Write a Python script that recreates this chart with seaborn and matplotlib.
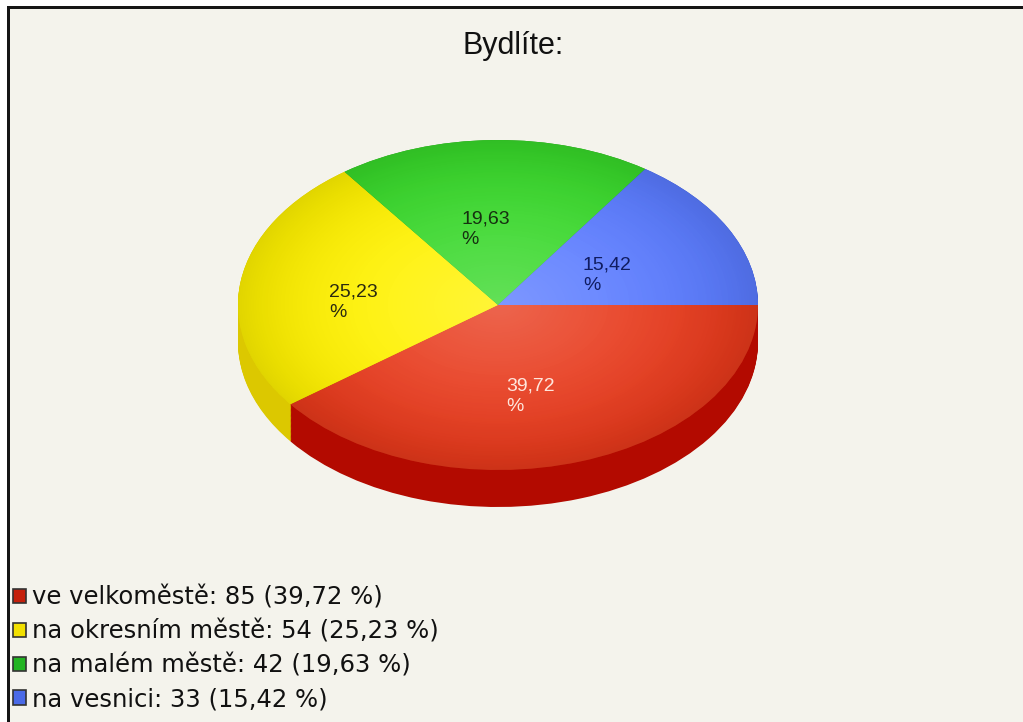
import numpy as np
import matplotlib
matplotlib.use("Agg")
import matplotlib.pyplot as plt
import seaborn as sns
from matplotlib.patches import Rectangle, Circle, Patch

# ---- data ----
categories = ["ve velkoměstě", "na okresním městě", "na malém městě", "na vesnici"]
counts = [85, 54, 42, 33]
percents = [39.72, 25.23, 19.63, 15.42]
title = "Bydlíte:"

# ---- styles ----
top_colors = ["#e83a1c", "#fff200", "#38d82a", "#5a7bff"]
side_colors = ["#b30a00", "#dcc800", "#2aa01c", "#3050d0"]
label_colors = ["#ffe6dc", "#2a2a10", "#163010", "#101c60"]
legend_colors = ["#c4200c", "#f2e000", "#22b422", "#4a6ae8"]

sns.set_theme(style="white")
plt.rcParams['font.family'] = ['Liberation Sans', 'DejaVu Sans']

W, H = 1023, 722
fig = plt.figure(figsize=(W / 100, H / 100), dpi=100)
fig.patch.set_facecolor('white')
fig.patches.append(Rectangle((10 / W, 0), 1, (H - 9) / H, transform=fig.transFigure,
                             facecolor='#f4f3ec', edgecolor='none', zorder=-3))
fig.patches.append(Rectangle((7 / W, 0), 3 / W, (H - 6) / H, transform=fig.transFigure,
                             facecolor='#151515', edgecolor='none', zorder=-2))
fig.patches.append(Rectangle((7 / W, (H - 9) / H), 1, 3 / H, transform=fig.transFigure,
                             facecolor='#151515', edgecolor='none', zorder=-2))

# pie geometry (pixels)
cx, cy = 498, 305
rx, ry = 260, 165
ylo, yhi = -1.6, 1.15
ax = fig.add_axes([(cx - 1.1 * rx) / W, ((H - cy) + ylo * ry) / H,
                   2.2 * rx / W, (yhi - ylo) * ry / H])
ax.set_facecolor('none')
ax.set_zorder(2)

depth = 37 / ry
for k in np.linspace(depth, 0.0, 45):
    ax.pie(percents, colors=side_colors, startangle=0, counterclock=False,
           center=(0, -k), wedgeprops=dict(linewidth=0))


def fmt(p):
    return f"{p:.2f}".replace('.', ',') + "\n%"


wedges, texts, autotexts = ax.pie(
    percents, colors=top_colors, startangle=0, counterclock=False,
    autopct=fmt, pctdistance=0.52,
    wedgeprops=dict(linewidth=0), textprops=dict(fontsize=14))
for t, c in zip(autotexts, label_colors):
    t.set_color(c)
    t.set_multialignment('left')
    t.set_linespacing(1.25)
    t.set_zorder(5)
    x, y = t.get_position()
    t.set_position((x - 0.04, y - 0.06))

# shading on the top surface
n = 400
g = np.linspace(-1, 1, n)
X, Y = np.meshgrid(g, g)
R = np.sqrt(X ** 2 + Y ** 2)
hl = np.zeros((n, n, 4))
hl[..., :3] = 1.0
hl[..., 3] = np.clip(0.22 * (1 - R) ** 1.2, 0, 1)
sh = np.zeros((n, n, 4))
sh[..., 3] = np.clip(0.12 * R ** 4, 0, 1)
for img in (hl, sh):
    im = ax.imshow(img, extent=(-1, 1, -1, 1), origin='lower', aspect='auto', zorder=2)
    im.set_clip_path(Circle((0, 0), 1, transform=ax.transData))

ax.set_aspect('auto')
ax.set_xlim(-1.1, 1.1)
ax.set_ylim(ylo, yhi)
ax.axis('off')

fig.text(513 / W, (H - 46) / H, title, ha='center', va='center', fontsize=22, color='#111111')

handles = [Patch(facecolor=c, edgecolor='#333333', linewidth=1.2) for c in legend_colors]
labels = [f"{c}: {n} ({p:.2f} %)".replace('.', ',') for c, n, p in zip(categories, counts, percents)]
fig.legend(handles, labels, loc='upper left', bbox_to_anchor=(13 / W, (H - 586) / H),
           frameon=False, prop=dict(family='DejaVu Sans', size=17.5),
           handlelength=0.52, handleheight=0.52,
           handletextpad=0.25, labelspacing=0.4, borderpad=0, borderaxespad=0,
           labelcolor='#111111')

fig.savefig('out.png', dpi=100)
